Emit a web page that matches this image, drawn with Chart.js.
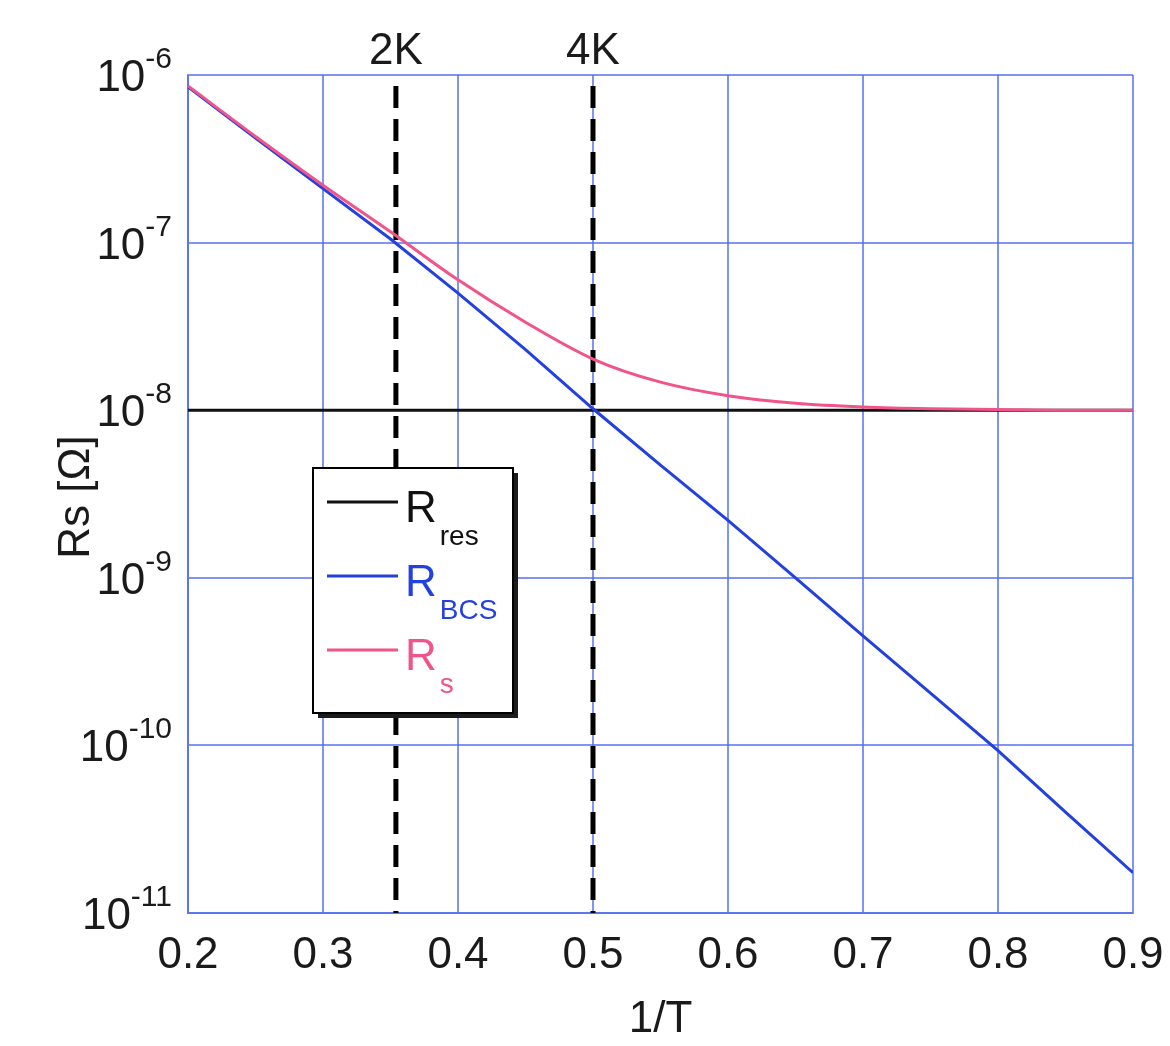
<!DOCTYPE html>
<html>
<head>
<meta charset="utf-8">
<script src="https://cdn.jsdelivr.net/npm/chart.js@4.4.0/dist/chart.umd.min.js"></script>
<style>
body { margin: 0; background: #fff; }
#wrap { width: 1170px; height: 1046px; }
</style>
</head>
<body>
<div id="wrap"><canvas id="myChart" width="1170" height="1046"></canvas></div>
<script>
// Values (1/T on x, Rs in ohm on y)
var invT = [0.2, 0.25, 0.3, 0.35, 0.4, 0.45, 0.5, 0.55, 0.6, 0.65, 0.7, 0.75, 0.8, 0.85, 0.9];
var rRes = [1e-8, 1e-8, 1e-8, 1e-8, 1e-8, 1e-8, 1e-8, 1e-8, 1e-8, 1e-8, 1e-8, 1e-8, 1e-8, 1e-8, 1e-8];
var rBCS = [8.5e-7, 4.2e-7, 2.1e-7, 1.05e-7, 5.0e-8, 2.3e-8, 1.02e-8, 4.7e-9, 2.2e-9, 1.0e-9, 4.5e-10, 2.05e-10, 9.3e-11, 4.0e-11, 1.74e-11];
var rS   = [8.6e-7, 4.3e-7, 2.2e-7, 1.16e-7, 6.0e-8, 3.35e-8, 2.02e-8, 1.47e-8, 1.22e-8, 1.1e-8, 1.045e-8, 1.02e-8, 1.01e-8, 1.0e-8, 1.0e-8];

// Temperature markers
var markX = [0.354, 0.5];
var markLabels = ['2K', '4K'];

// Axis ticks
var yTickPowers = [-11, -10, -9, -8, -7, -6];
var xMin = 0.2, xMax = 0.9, xStep = 0.1;

// Legend text: main letter + subscript
var seriesNames = ['R', 'R', 'R'];
var seriesSubs = ['res', 'BCS', 's'];
var seriesColors = ['#111111', '#2340e0', '#f0548a'];

var FONT = "'Liberation Sans', Arial, sans-serif";
var gridColor = 'rgba(80,105,238,0.72)';

function points(xs, ys) {
    return xs.map(function(x, i) { return { x: x, y: ys[i] }; });
}

var yMin = Math.pow(10, yTickPowers[0]);
var yMax = Math.pow(10, yTickPowers[yTickPowers.length - 1]);

function markerLine(x) {
    return {
        label: 'marker',
        data: [{ x: x, y: yMax }, { x: x, y: yMin }],
        borderColor: '#000',
        borderWidth: 5,
        borderDash: [22, 11],
        borderDashOffset: 22,
        pointRadius: 0,
        order: 4
    };
}

// Draws superscript tick labels, axis title, marker labels and the legend box
var extras = {
    id: 'extras',
    afterDraw: function(chart) {
        var ctx = chart.ctx;
        var xs = chart.scales.x, ys = chart.scales.y;
        ctx.save();
        ctx.fillStyle = '#1a1a1a';

        // y tick labels 10^n
        yTickPowers.forEach(function(p) {
            var y = ys.getPixelForValue(Math.pow(10, p));
            var sup = '-' + Math.abs(p);
            ctx.font = '30px ' + FONT;
            var sw = ctx.measureText(sup).width;
            ctx.textAlign = 'left';
            ctx.textBaseline = 'alphabetic';
            ctx.fillText(sup, 172 - sw, y - 7);
            ctx.font = '44px ' + FONT;
            ctx.textAlign = 'right';
            ctx.fillText('10', 172 - sw, y + 16);
        });

        // y axis title
        ctx.save();
        ctx.translate(77, 497);
        ctx.rotate(-Math.PI / 2);
        ctx.font = '44px ' + FONT;
        ctx.textAlign = 'center';
        ctx.textBaseline = 'middle';
        ctx.fillText('Rs [\u03A9]', 0, 0);
        ctx.restore();

        // marker labels above the plot
        ctx.font = '44px ' + FONT;
        ctx.textAlign = 'center';
        ctx.textBaseline = 'alphabetic';
        markX.forEach(function(x, i) {
            ctx.fillText(markLabels[i], xs.getPixelForValue(x), 64);
        });

        // legend box with shadow
        var bx = 313, by = 468, bw = 200, bh = 245;
        ctx.fillStyle = '#1c1c1c';
        ctx.fillRect(bx + 5, by + 5, bw, bh);
        ctx.fillStyle = '#ffffff';
        ctx.fillRect(bx, by, bw, bh);
        ctx.strokeStyle = '#000';
        ctx.lineWidth = 2;
        ctx.strokeRect(bx, by, bw, bh);

        seriesNames.forEach(function(name, i) {
            var ly = 502 + i * 74;
            ctx.strokeStyle = seriesColors[i];
            ctx.lineWidth = 3;
            ctx.beginPath();
            ctx.moveTo(327, ly);
            ctx.lineTo(398, ly);
            ctx.stroke();
            ctx.fillStyle = seriesColors[i];
            ctx.textAlign = 'left';
            ctx.font = '44px ' + FONT;
            ctx.fillText(name, 405, ly + 20);
            var w = ctx.measureText(name).width;
            ctx.font = '28px ' + FONT;
            ctx.fillText(seriesSubs[i], 405 + w + 3, ly + 43);
        });
        ctx.restore();
    }
};

var ctx = document.getElementById('myChart').getContext('2d');
var myChart = new Chart(ctx, {
    type: 'line',
    data: {
        datasets: [
            {
                label: 'R_s',
                data: points(invT, rS),
                borderColor: seriesColors[2],
                borderWidth: 3,
                pointRadius: 0,
                cubicInterpolationMode: 'monotone',
                order: 1
            },
            {
                label: 'R_BCS',
                data: points(invT, rBCS),
                borderColor: seriesColors[1],
                borderWidth: 3,
                pointRadius: 0,
                order: 2
            },
            {
                label: 'R_res',
                data: points(invT, rRes),
                borderColor: seriesColors[0],
                borderWidth: 3,
                pointRadius: 0,
                order: 3
            },
            markerLine(markX[0]),
            markerLine(markX[1])
        ]
    },
    options: {
        responsive: false,
        animation: false,
        layout: { padding: { left: 188, right: 37, top: 75, bottom: 0 } },
        plugins: {
            legend: { display: false },
            tooltip: { enabled: false }
        },
        scales: {
            x: {
                type: 'linear',
                min: xMin,
                max: xMax,
                afterFit: function(scale) {
                    scale.height = 133;
                    scale.paddingLeft = 0;
                    scale.paddingRight = 0;
                },
                ticks: {
                    stepSize: xStep,
                    padding: 16,
                    color: '#1a1a1a',
                    font: { family: FONT, size: 44 },
                    maxRotation: 0,
                    callback: function(v) { return v.toFixed(1); }
                },
                grid: { color: gridColor, lineWidth: 2, drawTicks: false },
                border: { color: gridColor, width: 2 },
                title: {
                    display: true,
                    text: '1/T',
                    color: '#1a1a1a',
                    font: { family: FONT, size: 44 },
                    padding: { top: 0, bottom: 0 }
                }
            },
            y: {
                type: 'logarithmic',
                min: yMin,
                max: yMax,
                afterBuildTicks: function(scale) {
                    scale.ticks = yTickPowers.map(function(p) { return { value: Math.pow(10, p) }; });
                },
                ticks: { display: false },
                grid: { color: gridColor, lineWidth: 2, drawTicks: false },
                border: { color: gridColor, width: 2 }
            }
        }
    },
    plugins: [extras]
});
</script>
</body>
</html>
